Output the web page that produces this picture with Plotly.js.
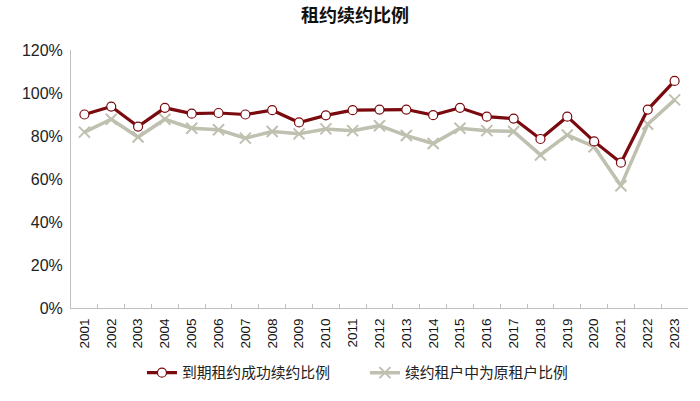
<!DOCTYPE html>
<html>
<head>
<meta charset="utf-8">
<script src="https://cdn.plot.ly/plotly-3.0.1.min.js"></script>
<style>html,body{margin:0;padding:0;background:#fff;}#chart{width:700px;height:401px;}</style>
</head>
<body>
<div id="chart"></div>
<script>
const years = ['2001','2002','2003','2004','2005','2006','2007','2008','2009','2010','2011','2012','2013','2014','2015','2016','2017','2018','2019','2020','2021','2022','2023'];
const renewRate = [0.900,0.937,0.844,0.931,0.904,0.907,0.900,0.920,0.863,0.896,0.920,0.923,0.923,0.897,0.931,0.890,0.881,0.786,0.890,0.775,0.676,0.923,1.056];
const originalTenantRate = [0.818,0.878,0.795,0.878,0.836,0.829,0.790,0.821,0.810,0.833,0.825,0.848,0.802,0.765,0.836,0.825,0.821,0.712,0.805,0.750,0.569,0.855,0.968];
const seriesNames = ['到期租约成功续约比例','续约租户中为原租户比例'];
const chartTitle = '租约续约比例';

const font = 'Liberation Sans, Arial, "Noto Sans CJK SC", sans-serif';
const cjk = '"Noto Sans CJK SC", sans-serif';
const traces = [
  {
    x: years, y: originalTenantRate, name: seriesNames[1], type: 'scatter', mode: 'lines+markers',
    line: {color: '#BFC0AF', width: 3.5},
    marker: {symbol: 'x-thin', size: 11, color: '#BFC0AF', line: {color: '#BFC0AF', width: 2}},
    legendrank: 2
  },
  {
    x: years, y: renewRate, name: seriesNames[0], type: 'scatter', mode: 'lines+markers',
    line: {color: '#7A0A0E', width: 3.2},
    marker: {symbol: 'circle', size: 9, color: '#ffffff', line: {color: '#7A0A0E', width: 1.2}},
    legendrank: 1
  }
];
const layout = {
  width: 700, height: 401,
  margin: {l: 71, r: 12, t: 50, b: 87.5},
  paper_bgcolor: '#fff', plot_bgcolor: '#fff',
  font: {family: font, size: 13, color: '#222'},
  title: {text: '<b>' + chartTitle + '</b>', x: 0.507, xref: 'container', y: 0.962, yref: 'container', yanchor: 'middle', font: {family: cjk, size: 18, color: '#111'}},
  showlegend: true,
  legend: {orientation: 'h', x: 0.115, xanchor: 'left', y: -0.252, yanchor: 'middle', entrywidth: 178, entrywidthmode: 'pixels',
    font: {size: 14.8, family: cjk, color: '#222'}, traceorder: 'normal'},
  xaxis: {
    type: 'category', range: [-0.5, years.length - 0.5], tickangle: -90, showline: true, linecolor: '#BFBFBF', linewidth: 1,
    ticks: 'inside', tickson: 'boundaries', ticklen: 4, tickcolor: '#BFBFBF',
    showgrid: false, zeroline: false, automargin: false, ticklabelstandoff: 4,
    tickfont: {size: 13.5, color: '#111'}
  },
  yaxis: {
    range: [0, 1.2], dtick: 0.2, tickformat: '.0%', showline: true, linecolor: '#BFBFBF', linewidth: 1,
    ticks: '', showgrid: false, zeroline: false, automargin: false, ticklabelstandoff: 4,
    tickfont: {size: 16, color: '#222'}
  }
};
Plotly.newPlot('chart', traces, layout, {displayModeBar: false, staticPlot: true});
</script>
</body>
</html>
